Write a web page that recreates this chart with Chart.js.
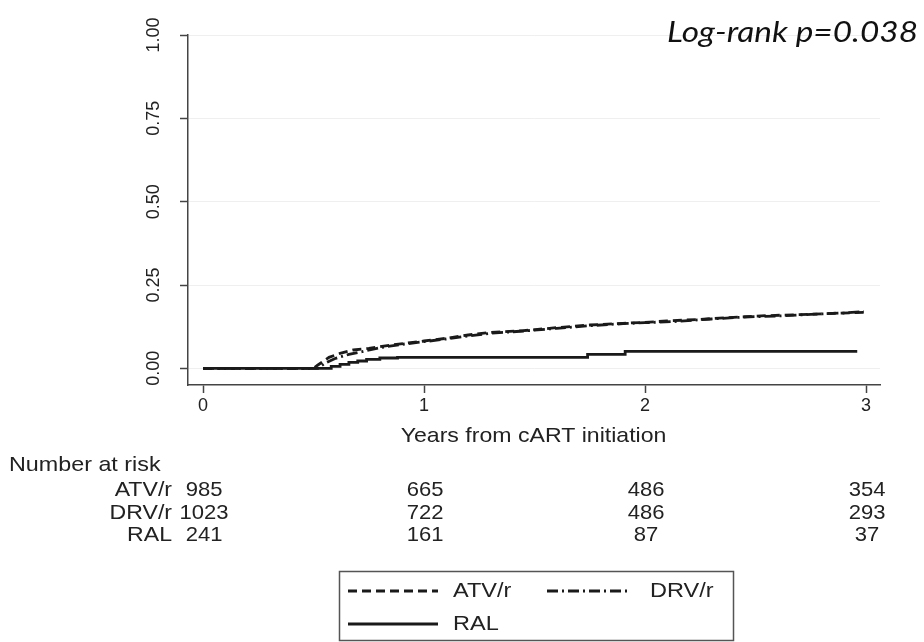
<!DOCTYPE html>
<html><head><meta charset="utf-8">
<script src="https://cdn.jsdelivr.net/npm/chart.js@4.4.0/dist/chart.umd.min.js"></script>
<style>html,body{margin:0;padding:0;background:#fff;}#wrap{width:924px;height:642px;}</style>
</head><body><div id="wrap"><canvas id="c" width="924" height="642"></canvas></div>
<script>
// ---- data ----
const xTicks = [0, 1, 2, 3];
const yTicks = [0, 0.25, 0.5, 0.75, 1];
const yTickLabels = ["0.00", "0.25", "0.50", "0.75", "1.00"];
const xTitle = "Years from cART initiation";
const annotation = "Log-rank p=0.038";

const atvTime = [0, 0.5, 0.52, 0.57, 0.62, 0.68, 0.75, 0.85, 0.95, 1.0, 1.1, 1.2, 1.3, 1.45, 1.6, 1.75, 1.9, 2.0, 2.1, 2.25, 2.4, 2.55, 2.7, 2.85, 2.99];
const atvValue = [0, 0, 0.01, 0.033, 0.045, 0.055, 0.06, 0.07, 0.078, 0.082, 0.09, 0.1, 0.108, 0.113, 0.122, 0.13, 0.135, 0.138, 0.142, 0.147, 0.153, 0.158, 0.161, 0.165, 0.168];
const drvTime = [0, 0.52, 0.55, 0.6, 0.66, 0.72, 0.8, 0.9, 1.0, 1.1, 1.2, 1.3, 1.45, 1.6, 1.75, 1.9, 2.0, 2.15, 2.3, 2.45, 2.6, 2.75, 2.9, 2.99];
const drvValue = [0, 0, 0.015, 0.03, 0.042, 0.05, 0.062, 0.072, 0.08, 0.088, 0.097, 0.105, 0.112, 0.12, 0.128, 0.134, 0.137, 0.141, 0.148, 0.154, 0.157, 0.162, 0.166, 0.17];
const ralTime = [0, 0.58, 0.62, 0.66, 0.7, 0.74, 0.8, 0.88, 1.74, 1.91, 2.96];
const ralValue = [0, 0.006, 0.012, 0.018, 0.022, 0.027, 0.031, 0.033, 0.042, 0.051, 0.051];

const groups = ["ATV/r", "DRV/r", "RAL"];
const riskATV = [985, 665, 486, 354];
const riskDRV = [1023, 722, 486, 293];
const riskRAL = [241, 161, 87, 37];
const riskRows = [riskATV, riskDRV, riskRAL];

const dashes = [[9, 5], [11, 4, 2, 4], []];
const FONT = "'Liberation Sans', Arial, sans-serif";

function pts(t, v) { return t.map((x, i) => ({ x: x, y: v[i] })); }

function sText(ctx, text, x, y, align, sx) {
  ctx.save();
  ctx.translate(x, y);
  ctx.scale(sx, 1);
  ctx.textAlign = align;
  ctx.fillText(text, 0, 0);
  ctx.restore();
}

const overlay = {
  id: 'overlay',
  afterDraw(chart) {
    const ctx = chart.ctx;
    const xs = chart.scales.x, ys = chart.scales.y;
    ctx.save();
    ctx.fillStyle = '#222';
    ctx.textBaseline = 'middle';
    // y tick labels (rotated)
    ctx.font = "18px " + FONT;
    yTicks.forEach((v, i) => {
      const y = ys.getPixelForValue(v);
      ctx.save();
      ctx.translate(154, y);
      ctx.rotate(-Math.PI / 2);
      ctx.textAlign = 'center';
      ctx.fillText(yTickLabels[i], 0, 0);
      ctx.restore();
    });
    // x title
    ctx.font = "21px " + FONT;
    sText(ctx, xTitle, (xs.getPixelForValue(0) + xs.getPixelForValue(3)) / 2 - 1, 436, 'center', 1.1);
    // risk table
    sText(ctx, "Number at risk", 9, 465, 'left', 1.11);
    const rowY = [490, 513, 535];
    riskRows.forEach((row, r) => {
      sText(ctx, groups[r], 172, rowY[r], 'right', 1.1);
      row.forEach((n, j) => sText(ctx, String(n), xs.getPixelForValue(xTicks[j]) + 1, rowY[r], 'center', 1.05));
    });
    // legend box
    ctx.strokeStyle = '#555';
    ctx.lineWidth = 1.5;
    ctx.strokeRect(339.5, 571.5, 394, 69);
    const leg = [
      { x1: 348, x2: 438, y: 591, tx: 453 },
      { x1: 547, x2: 627, y: 591, tx: 650 },
      { x1: 348, x2: 438, y: 624, tx: 453 }
    ];
    leg.forEach((l, i) => {
      ctx.strokeStyle = '#1a1a1a';
      ctx.lineWidth = 3;
      ctx.setLineDash(dashes[i]);
      ctx.beginPath(); ctx.moveTo(l.x1, l.y); ctx.lineTo(l.x2, l.y); ctx.stroke();
      ctx.setLineDash([]);
      ctx.fillStyle = '#222';
      sText(ctx, groups[i], l.tx, l.y, 'left', 1.12);
    });
    // annotation
    ctx.font = "italic 28px Lato, 'Open Sans', sans-serif";
    ctx.fillStyle = '#111';
    const w = ctx.measureText(annotation).width;
    sText(ctx, annotation, 667, 33, 'left', 251 / w);
    ctx.restore();
  }
};

new Chart(document.getElementById('c'), {
  type: 'line',
  data: {
    datasets: [
      { label: groups[0], data: pts(atvTime, atvValue), borderDash: dashes[0] },
      { label: groups[1], data: pts(drvTime, drvValue), borderDash: dashes[1] },
      { label: groups[2], data: pts(ralTime, ralValue), borderDash: dashes[2], stepped: 'before' }
    ].map(d => Object.assign({ borderColor: '#1a1a1a', borderWidth: 2.8, pointRadius: 0, fill: false, tension: 0 }, d))
  },
  options: {
    responsive: false,
    animation: false,
    layout: { padding: { top: 35, right: 44, left: 0, bottom: 0 } },
    plugins: { legend: { display: false }, tooltip: { enabled: false } },
    scales: {
      x: {
        type: 'linear', min: -0.068, max: 3.063,
        afterBuildTicks: s => { s.ticks = xTicks.map(v => ({ value: v })); },
        afterFit: s => { s.height = 257; },
        border: { color: '#444', width: 1.5 },
        grid: { drawOnChartArea: false, drawTicks: true, tickLength: 8, tickColor: '#444', tickWidth: 1.5 },
        ticks: { font: { size: 18, family: FONT }, color: '#222', padding: 2, maxRotation: 0 }
      },
      y: {
        type: 'linear', min: -0.05, max: 1.0,
        afterBuildTicks: s => { s.ticks = yTicks.map(v => ({ value: v })); },
        afterFit: s => { s.width = 188; },
        border: { color: '#444', width: 1.5 },
        grid: { color: '#efefef', lineWidth: 1, drawTicks: true, tickLength: 8, tickColor: '#444', tickWidth: 1.5 },
        ticks: { display: false }
      }
    }
  },
  plugins: [overlay]
});
</script>
</body></html>
